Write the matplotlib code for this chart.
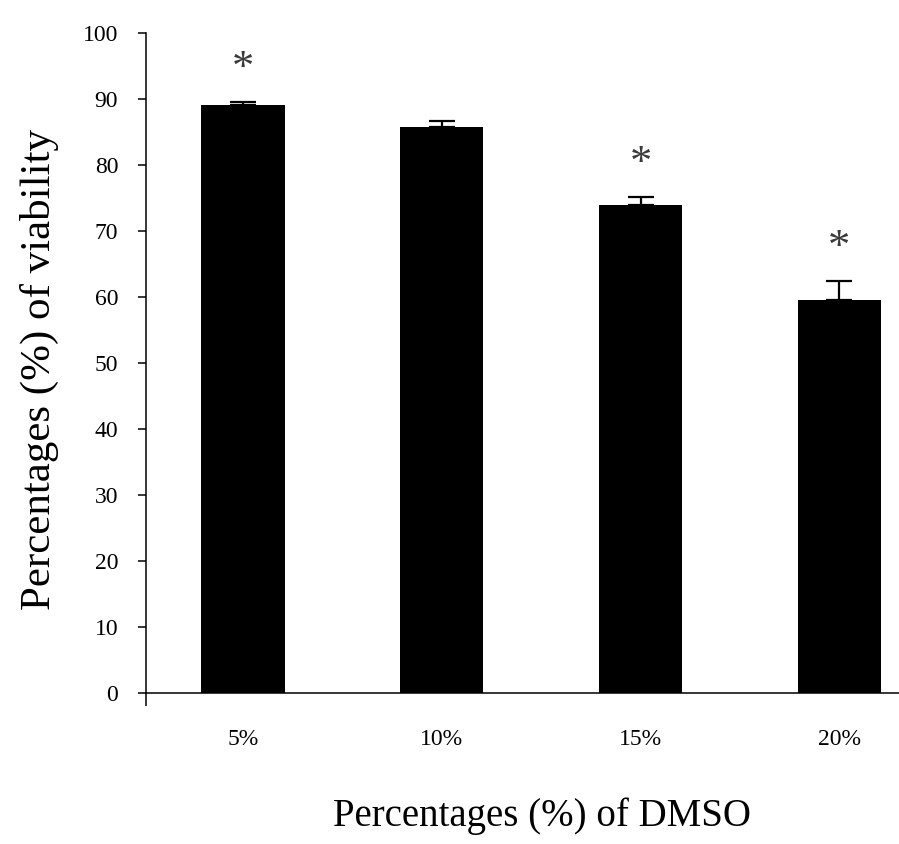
import matplotlib
matplotlib.use('Agg')
import matplotlib.pyplot as plt

plt.rc('font', family='Liberation Serif')

categories = ['5%', '10%', '15%', '20%']
viability = [89.1, 85.7, 74.0, 59.6]
sem = [0.5, 0.9, 1.1, 2.8]
signif = ['*', '', '*', '*']

fig = plt.figure(figsize=(8.99, 8.44), dpi=100)
ax = fig.add_axes([0.1624, 0.1789, 0.8376, 0.7821])

x = list(range(len(categories)))
ax.bar(x, viability, width=0.42, color='black', zorder=2)
ax.errorbar(x, viability, yerr=[[0] * len(sem), sem], fmt='none',
            ecolor='black', elinewidth=1.6, capsize=9.5, capthick=1.6, zorder=3)

# significance stars above error bars
for xi, v, e, s in zip(x, viability, sem, signif):
    if s:
        ax.text(xi, v + e + 5.0, s, ha='center', va='center', fontsize=32, color='#3a3a3a')

ax.set_xlim(-0.487, 3.3)
ax.set_ylim(0, 100)
ax.set_yticks(range(0, 101, 10))
ax.set_xticks(x)
ax.set_xticklabels(categories)
ax.tick_params(axis='x', length=0, pad=26, labelsize=17)
ax.tick_params(axis='y', length=6, width=1.1, direction='out', pad=14, labelsize=17)

# little downward tick at the axis origin
ax.set_xticks([-0.487], minor=True)
ax.tick_params(axis='x', which='minor', length=9, width=1.1, direction='out')

for sp in ['top', 'right']:
    ax.spines[sp].set_visible(False)
for sp in ['left', 'bottom']:
    ax.spines[sp].set_linewidth(1.1)

ax.set_ylabel('Percentages (%) of viability', fontsize=31, va='center')
ax.set_xlabel('Percentages (%) of DMSO', fontsize=28, va='center')
ax.xaxis.set_label_coords(0.526, -0.186)
ax.yaxis.set_label_coords(-0.141, 0.49)

fig.savefig('out.png', dpi=100)
